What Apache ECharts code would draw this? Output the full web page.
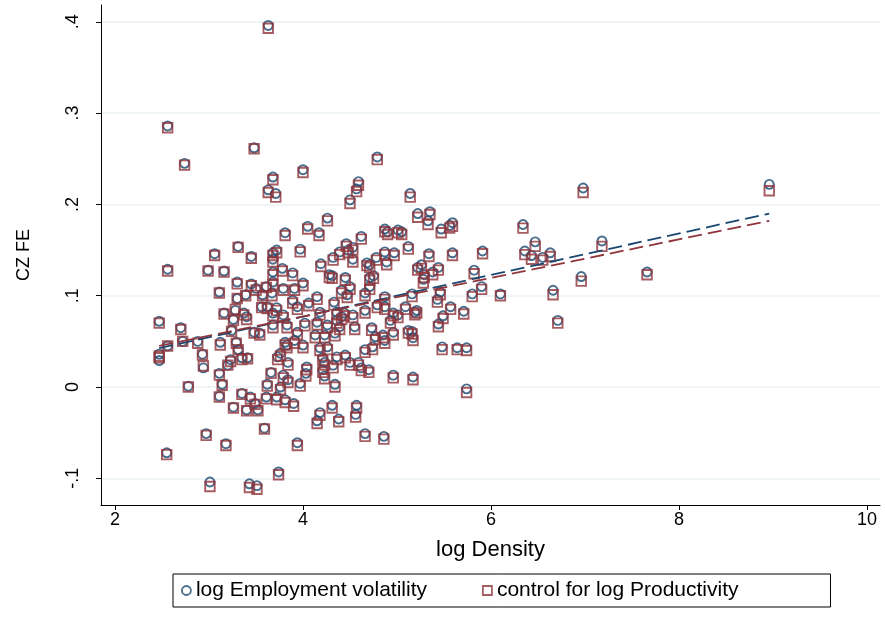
<!DOCTYPE html>
<html>
<head>
<meta charset="utf-8">
<script src="https://cdn.jsdelivr.net/npm/echarts@6/dist/echarts.min.js"></script>
<style>
  html, body { margin: 0; padding: 0; background: #fff; }
  #chart { width: 885px; height: 620px; }
</style>
</head>
<body>
<div id="chart"></div>
<script>
// Tick positions on both axes
const xTicks = [2, 4, 6, 8, 10];
const yTicks = [-0.1, 0, 0.1, 0.2, 0.3, 0.4];

// Commuting-zone fixed effects against log density
const logDensity = [
  2.47, 2.47, 2.47, 2.56, 2.56, 2.56, 2.55, 2.74, 2.70, 2.72,
  2.78, 2.88, 2.93, 2.94, 2.97, 2.99, 3.01, 3.06, 3.16, 3.11,
  3.12, 3.16, 3.11, 3.14, 3.11, 3.18, 3.20, 3.23, 3.24, 3.26,
  3.28, 3.29, 3.31, 3.30, 3.30, 3.31, 3.35, 3.41, 3.37, 3.40,
  3.35, 3.44, 3.49, 3.26, 3.40, 3.52, 3.43, 3.51, 3.39, 3.45,
  3.45, 3.50, 3.48, 3.48, 3.54, 3.56, 3.62, 3.57, 3.61, 3.59,
  3.61, 3.62, 3.66, 3.63, 3.63, 3.68, 3.71, 3.68, 3.68, 3.68,
  3.68, 3.67, 3.68, 3.74, 3.78, 3.72, 3.81, 4.00, 3.79, 3.89,
  3.97, 3.89, 3.94, 3.91, 4.00, 3.72, 3.79, 3.68, 4.06, 4.05,
  4.17, 4.26, 4.15, 4.18, 4.19, 4.28, 4.31, 4.32, 4.33, 4.36,
  4.44, 4.39, 4.46, 4.48, 4.53, 4.53, 4.45, 4.50, 4.41, 4.47,
  4.53, 4.50, 4.57, 4.59, 4.62, 4.66, 4.66, 4.68, 4.71, 4.71,
  4.75, 4.71, 4.78, 4.79, 4.79, 4.87, 4.90, 4.87, 4.89, 4.97,
  4.87, 4.87, 4.96, 5.01, 5.01, 5.05, 5.09, 5.12, 5.14, 5.16,
  5.21, 5.22, 5.22, 5.35, 5.33, 5.47, 5.56, 5.59, 5.34, 5.59,
  5.26, 5.44, 5.38, 5.29, 5.28, 5.82, 5.91, 5.90, 5.46, 5.43,
  5.80, 6.10, 5.57, 5.71, 5.49, 5.44, 5.19, 5.16, 5.17, 5.48,
  5.64, 5.74, 5.17, 5.74, 6.34, 6.47, 6.36, 6.43, 6.55, 6.63,
  6.66, 6.71, 6.98, 6.96, 7.18, 7.66, 8.96, 3.83, 3.94, 4.02,
  4.15, 4.26, 4.23, 4.13, 4.34, 4.39, 4.36, 4.41, 4.55, 4.73,
  4.77, 4.85, 4.87, 4.96, 4.93, 5.12, 3.81, 3.83, 3.91, 4.00,
  3.76, 3.73, 3.84, 4.18, 4.26, 4.21, 4.23, 4.36, 4.45, 4.50,
  4.59, 4.66, 4.74, 4.62, 4.70, 4.32, 4.04, 4.03, 4.21, 4.23,
  4.34, 3.97, 3.79, 3.84, 3.76, 3.72, 3.81, 3.90, 4.96, 4.31,
  4.18, 4.15, 4.38, 4.57, 4.56, 4.66, 4.86, 3.94
];

// CZ FE, log employment volatility specification
const feVolatility = [
  0.072, 0.036, 0.029, 0.286, 0.129, 0.045, -0.072, 0.245, 0.065, 0.050,
  0.001, 0.050, 0.036, 0.021, -0.051, 0.128, -0.104, 0.146, 0.127, 0.104,
  0.049, 0.081, 0.015, 0.003, -0.010, -0.062, 0.024, 0.030, 0.062, 0.074,
  0.084, 0.049, 0.041, 0.115, 0.097, 0.154, 0.032, 0.032, 0.081, 0.077,
  -0.007, -0.011, -0.018, -0.022, -0.025, -0.025, -0.106, -0.108, 0.101, 0.143,
  0.113, 0.108, 0.262, 0.060, 0.059, 0.088, 0.088, 0.101, 0.110, -0.045,
  -0.011, 0.003, 0.016, 0.396, 0.216, 0.230, 0.212, 0.147, 0.140, 0.126,
  0.115, 0.103, 0.068, -0.093, 0.130, 0.150, 0.169, 0.238, 0.108, 0.125,
  0.151, 0.095, 0.088, 0.108, 0.114, 0.087, 0.079, 0.081, 0.092, 0.176,
  0.169, 0.185, 0.099, 0.082, 0.135, 0.123, 0.122, 0.142, 0.093, 0.082,
  0.081, 0.148, 0.157, 0.150, 0.153, 0.140, 0.120, 0.110, 0.106, 0.101,
  0.079, 0.205, 0.217, 0.225, 0.165, 0.103, 0.084, 0.136, 0.134, 0.120,
  0.122, 0.110, 0.142, 0.090, 0.252, 0.173, 0.170, 0.148, 0.137, 0.147,
  0.099, 0.088, 0.081, 0.079, 0.172, 0.170, 0.088, 0.154, 0.212, 0.102,
  0.084, 0.131, 0.190, 0.192, 0.182, 0.173, 0.177, 0.180, 0.146, 0.147,
  0.134, 0.131, 0.126, 0.123, 0.118, 0.128, 0.149, 0.110, 0.104, 0.096,
  0.102, 0.102, 0.088, 0.083, 0.078, 0.069, 0.082, 0.061, 0.054, 0.044,
  0.043, 0.043, 0.011, -0.002, 0.178, 0.159, 0.149, 0.144, 0.142, 0.147,
  0.106, 0.073, 0.218, 0.121, 0.160, 0.126, 0.222, 0.068, 0.060, 0.070,
  0.071, 0.068, 0.057, 0.057, 0.059, 0.066, 0.073, 0.077, 0.066, 0.065,
  0.055, 0.057, 0.051, 0.060, 0.073, 0.062, 0.049, 0.046, 0.051, 0.046,
  0.037, 0.033, 0.027, 0.043, 0.044, 0.032, 0.027, 0.033, 0.035, 0.027,
  0.027, 0.041, 0.044, 0.021, 0.019, 0.024, 0.022, 0.015, 0.019, 0.012,
  0.003, 0.004, 0.013, 0.008, 0.000, -0.011, -0.014, -0.018, 0.013, -0.020,
  -0.028, -0.037, -0.035, -0.020, -0.030, -0.051, -0.054, -0.061
];

// CZ FE, with control for log productivity
const feProductivity = [
  0.070, 0.034, 0.032, 0.284, 0.127, 0.045, -0.074, 0.243, 0.063, 0.050,
  0.000, 0.048, 0.035, 0.023, -0.053, 0.127, -0.109, 0.144, 0.126, 0.103,
  0.046, 0.080, 0.013, 0.002, -0.011, -0.064, 0.024, 0.028, 0.061, 0.073,
  0.085, 0.048, 0.041, 0.113, 0.097, 0.153, 0.030, 0.031, 0.079, 0.074,
  -0.008, -0.013, -0.019, -0.023, -0.026, -0.026, -0.110, -0.112, 0.100, 0.141,
  0.111, 0.106, 0.261, 0.059, 0.057, 0.087, 0.086, 0.100, 0.109, -0.046,
  -0.013, 0.001, 0.015, 0.393, 0.213, 0.227, 0.208, 0.144, 0.137, 0.123,
  0.112, 0.100, 0.065, -0.096, 0.127, 0.147, 0.166, 0.235, 0.106, 0.122,
  0.148, 0.092, 0.085, 0.106, 0.111, 0.084, 0.076, 0.078, 0.089, 0.173,
  0.166, 0.182, 0.096, 0.079, 0.132, 0.120, 0.119, 0.139, 0.090, 0.079,
  0.078, 0.145, 0.154, 0.147, 0.150, 0.137, 0.117, 0.107, 0.103, 0.098,
  0.076, 0.201, 0.214, 0.221, 0.162, 0.100, 0.081, 0.133, 0.131, 0.117,
  0.119, 0.107, 0.139, 0.087, 0.249, 0.170, 0.167, 0.145, 0.134, 0.144,
  0.096, 0.085, 0.078, 0.076, 0.169, 0.167, 0.085, 0.151, 0.208, 0.099,
  0.081, 0.128, 0.186, 0.189, 0.178, 0.169, 0.174, 0.176, 0.143, 0.144,
  0.130, 0.128, 0.123, 0.120, 0.114, 0.124, 0.146, 0.107, 0.101, 0.093,
  0.099, 0.100, 0.085, 0.080, 0.075, 0.066, 0.079, 0.058, 0.051, 0.041,
  0.041, 0.040, 0.008, -0.006, 0.174, 0.154, 0.145, 0.140, 0.139, 0.143,
  0.101, 0.070, 0.213, 0.116, 0.154, 0.123, 0.215, 0.065, 0.057, 0.067,
  0.068, 0.065, 0.054, 0.054, 0.056, 0.063, 0.070, 0.074, 0.063, 0.062,
  0.052, 0.054, 0.048, 0.057, 0.070, 0.059, 0.046, 0.043, 0.048, 0.043,
  0.034, 0.030, 0.024, 0.040, 0.041, 0.029, 0.024, 0.030, 0.032, 0.024,
  0.024, 0.038, 0.041, 0.018, 0.016, 0.021, 0.019, 0.012, 0.016, 0.009,
  0.000, 0.001, 0.010, 0.005, -0.003, -0.014, -0.017, -0.021, 0.010, -0.023,
  -0.031, -0.040, -0.038, -0.023, -0.033, -0.054, -0.057, -0.064
];

// Linear fits (end points over the observed density range)
const fitX = [2.47, 8.96];
const fitVolatility = [0.0425, 0.190];
const fitProductivity = [0.045, 0.182];

const NAVY = '#1a476f';
const MAROON = '#90353b';
const FONT = 'Liberation Sans, Arial, Helvetica, sans-serif';

const pairs = (xs, ys) => xs.map((x, i) => [x, ys[i]]);

function fmtY(v) {
  if (Math.abs(v) < 1e-9) return '0';
  const s = Math.abs(v).toFixed(1).replace(/^0/, '');
  return (v < 0 ? '-' : '') + s;
}

const chart = echarts.init(document.getElementById('chart'), null, { renderer: 'canvas' });

chart.setOption({
  animation: false,
  backgroundColor: '#fff',
  grid: { left: 101, right: 5, top: 5, bottom: 115, containLabel: false },
  xAxis: {
    type: 'value',
    min: 1.851,
    max: 10.138,
    name: 'log Density',
    nameLocation: 'middle',
    nameGap: 34,
    nameTextStyle: { fontSize: 22, color: '#000', fontFamily: FONT },
    axisLine: { onZero: false, lineStyle: { color: '#000', width: 1 } },
    axisTick: { customValues: xTicks, length: 5, lineStyle: { color: '#000', width: 1 } },
    axisLabel: { customValues: xTicks, fontSize: 18, color: '#000', fontFamily: FONT, margin: 6 },
    splitLine: { show: false }
  },
  yAxis: {
    type: 'value',
    min: -0.1292,
    max: 0.4184,
    name: 'CZ FE',
    nameLocation: 'middle',
    nameRotate: 90,
    nameGap: 68,
    nameTextStyle: { fontSize: 18, color: '#000', fontFamily: FONT },
    axisLine: { show: true, onZero: false, lineStyle: { color: '#000', width: 1 } },
    axisTick: { show: true, customValues: yTicks, length: 5, lineStyle: { color: '#000', width: 1 } },
    axisLabel: {
      customValues: yTicks, rotate: 90, fontSize: 18, color: '#000', fontFamily: FONT,
      margin: 19, formatter: fmtY
    },
    splitLine: { show: true, lineStyle: { color: '#eaf2f3', width: 1.5 } }
  },
  legend: {
    left: 173,
    top: 574,
    orient: 'horizontal',
    padding: [6, 92, 6, 8],
    itemGap: 55,
    itemWidth: 9,
    itemHeight: 9,
    borderColor: '#000',
    borderWidth: 1,
    borderRadius: 0,
    textStyle: { fontSize: 21, color: '#000', fontFamily: FONT },
    data: [
      { name: 'log Employment volatility', icon: 'circle',
        itemStyle: { color: '#fff', borderColor: NAVY, borderWidth: 1.8 } },
      { name: 'control for log Productivity', icon: 'rect',
        itemStyle: { color: '#fff', borderColor: MAROON, borderWidth: 1.8 } }
    ]
  },
  series: [
    {
      name: 'log Employment volatility',
      type: 'scatter',
      symbol: 'circle',
      symbolSize: 9,
      itemStyle: { color: 'rgba(255,255,255,0)', borderColor: NAVY, borderWidth: 1.9 },
      data: pairs(logDensity, feVolatility),
      z: 3
    },
    {
      name: 'control for log Productivity',
      type: 'scatter',
      symbol: 'rect',
      symbolSize: 9.5,
      itemStyle: { color: 'rgba(255,255,255,0)', borderColor: MAROON, borderWidth: 1.9 },
      data: pairs(logDensity, feProductivity),
      z: 4
    },
    {
      name: 'fit volatility',
      type: 'line',
      showSymbol: false,
      silent: true,
      lineStyle: { color: NAVY, width: 1.8, type: [14, 6] },
      data: pairs(fitX, fitVolatility),
      z: 5
    },
    {
      name: 'fit productivity',
      type: 'line',
      showSymbol: false,
      silent: true,
      lineStyle: { color: MAROON, width: 1.8, type: [14, 6] },
      data: pairs(fitX, fitProductivity),
      z: 5
    }
  ]
});
</script>
</body>
</html>
